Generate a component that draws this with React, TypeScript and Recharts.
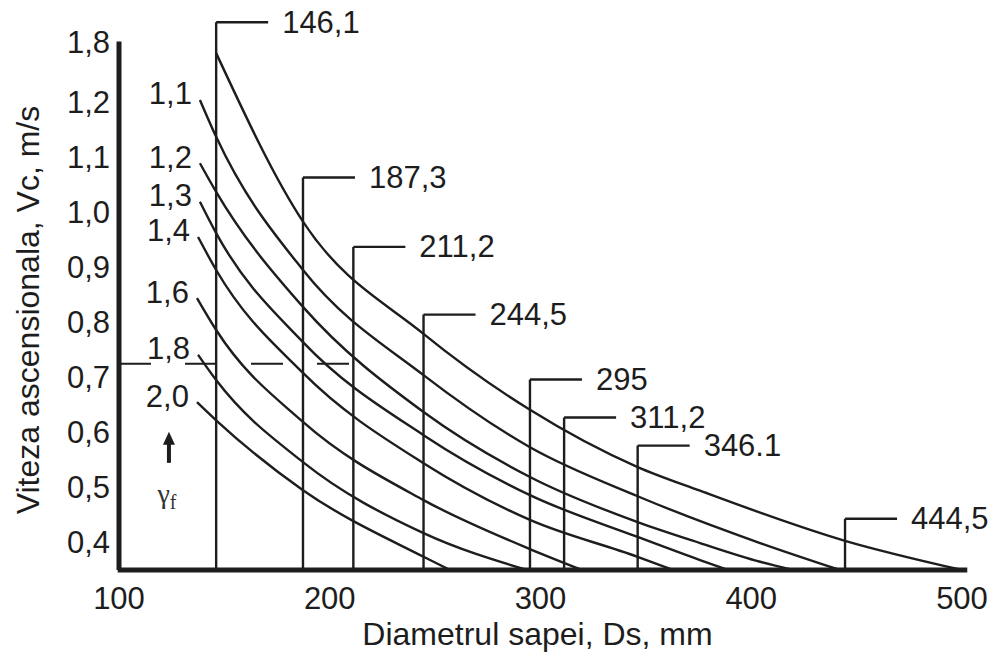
import React from "react";
import { LineChart, Line, XAxis, YAxis, ReferenceLine, ReferenceDot } from "recharts";

const INK = "#1d1d1d";
const FONT = "'Liberation Sans', Arial, Helvetica, sans-serif";

// axes
const xTicks = [100, 200, 300, 400, 500];
const yTicks = [0.4, 0.5, 0.6, 0.7, 0.8, 0.9, 1.0, 1.1, 1.2, 1.309];
const yTickLabels = ["0,4", "0,5", "0,6", "0,7", "0,8", "0,9", "1,0", "1,1", "1,2", "1,8"];
const yBottom = 0.349;
const yAxisTop = 1.309;

// bit diameters (vertical marker lines)
const diameters = [146.1, 187.3, 211.2, 244.5, 295, 311.2, 346.1, 444.5];
const diameterLabels = ["146,1", "187,3", "211,2", "244,5", "295", "311,2", "346.1", "444,5"];
const diameterTops = [1.344, 1.062, 0.936, 0.813, 0.695, 0.626, 0.575, 0.442];

// fluid density curves, [Ds, Vc]
const curveTop = [
  [146.1, 1.288], [187.3, 0.982], [244.5, 0.778], [295, 0.64], [346.1, 0.536], [375.7, 0.493],
  [444.5, 0.402], [500, 0.349],
];
const curve11 = [
  [138.4, 1.203], [146.1, 1.136], [187.3, 0.894], [244.5, 0.703], [295, 0.572], [346.1, 0.483],
  [404.2, 0.398], [442.1, 0.349],
];
const curve12 = [
  [138.4, 1.088], [146.1, 1.036], [187.3, 0.827], [244.5, 0.636], [295, 0.518], [346.1, 0.436],
  [375.7, 0.398], [404.2, 0.364], [419.8, 0.349],
];
const curve13 = [
  [138.4, 1.018], [146.1, 0.961], [187.3, 0.763], [244.5, 0.594], [295, 0.485], [346.1, 0.409],
  [375.7, 0.367], [389.0, 0.349],
];
const curve14 = [
  [137.5, 0.954], [146.1, 0.894], [187.3, 0.707], [244.5, 0.543], [295, 0.44], [346.1, 0.373],
  [362.9, 0.349],
];
const curve16 = [
  [137.0, 0.843], [146.1, 0.785], [187.3, 0.618], [244.5, 0.476], [295, 0.387], [319.7, 0.349],
];
const curve18 = [
  [137.5, 0.74], [146.1, 0.694], [187.3, 0.545], [244.5, 0.416], [293.6, 0.349],
];
const curve20 = [
  [137.0, 0.654], [146.1, 0.621], [187.3, 0.494], [244.5, 0.373], [257.1, 0.349],
];

const curveLabels = ["", "1,1", "1,2", "1,3", "1,4", "1,6", "1,8", "2,0"];
const curveSets = [curveTop, curve11, curve12, curve13, curve14, curve16, curve18, curve20];

// dashed reading line and gamma arrow
const dashedLevel = 0.7236;
const dashedEnd = 211.2;
const arrowX = 123.7;
const arrowTip = 0.6;

const toRows = (pts: number[][]) => pts.map(([x, y]) => ({ x, y }));

const textStyle = { fill: INK, fontSize: 31, fontFamily: FONT };

export default function App() {
  return (
    <div style={{ position: "absolute", left: 0, top: 0, background: "#fff" }}>
      <LineChart width={1003} height={655} margin={{ top: 19, right: 41, left: 0, bottom: 0 }}>
        <XAxis
          dataKey="x"
          type="number"
          domain={[100, 500]}
          ticks={xTicks}
          interval={0}
          axisLine={false}
          tickLine={false}
          tickSize={0}
          tickMargin={17}
          height={85}
          tick={textStyle}
          label={(props: any) => {
            const vb = props.viewBox;
            return (
              <text x={vb.x + vb.width / 2 - 3} y={vb.y + 64} textAnchor="middle" dominantBaseline="central" fill={INK} fontSize={32} fontFamily={FONT}>
                Diametrul sapei, Ds, mm
              </text>
            );
          }}
        />
        <YAxis
          type="number"
          domain={[yBottom, 1.35]}
          ticks={yTicks}
          interval={0}
          width={119}
          axisLine={false}
          tickLine={false}
          tickSize={0}
          tickMargin={9}
          tick={textStyle}
          tickFormatter={(v: number) => yTickLabels[yTicks.findIndex((t) => Math.abs(t - v) < 1e-6)] ?? ""}
          label={(props: any) => {
            const vb = props.viewBox;
            return (
              <text
                transform={`translate(${vb.x + 28}, 310) rotate(-90)`}
                textAnchor="middle"
                dominantBaseline="central"
                fill={INK}
                fontSize={32}
                fontFamily={FONT}
              >
                Viteza ascensionala, Vc, m/s
              </text>
            );
          }}
        />

        <ReferenceLine
          segment={[{ x: 100, y: dashedLevel }, { x: dashedEnd, y: dashedLevel }]}
          stroke={INK}
          strokeWidth={2}
          strokeDasharray="32 34"
        />

        {diameters.map((d, i) => (
          <Line
            key={`d-${d}`}
            data={toRows([[d, yBottom], [d, diameterTops[i]]])}
            dataKey="y"
            type="linear"
            stroke={INK}
            strokeWidth={2.4}
            isAnimationActive={false}
            activeDot={false}
            dot={(p: any) =>
              p.index === 1 ? (
                <g key={`f-${d}`}>
                  <line x1={p.cx} y1={p.cy} x2={p.cx + 52} y2={p.cy} stroke={INK} strokeWidth={2.4} />
                  <text x={p.cx + 66} y={p.cy} dominantBaseline="central" fill={INK} fontSize={31} fontFamily={FONT}>
                    {diameterLabels[i]}
                  </text>
                </g>
              ) : (
                <g key={`f0-${d}`} />
              )
            }
          />
        ))}

        {curveSets.map((pts, i) => (
          <Line
            key={`c-${i}`}
            data={toRows(pts)}
            dataKey="y"
            type="monotone"
            stroke={INK}
            strokeWidth={2.4}
            isAnimationActive={false}
            activeDot={false}
            dot={(p: any) =>
              p.index === 0 && curveLabels[i] ? (
                <text key={`l-${i}`} x={p.cx - 8} y={p.cy - 6} textAnchor="end" dominantBaseline="central" fill={INK} fontSize={31} fontFamily={FONT}>
                  {curveLabels[i]}
                </text>
              ) : (
                <g key={`l-${i}-${p.index}`} />
              )
            }
          />
        ))}

        <ReferenceLine segment={[{ x: 100, y: yBottom }, { x: 100, y: yAxisTop }]} stroke={INK} strokeWidth={5} ifOverflow="visible" />
        <ReferenceLine segment={[{ x: 99.4, y: yBottom }, { x: 502.5, y: yBottom }]} stroke={INK} strokeWidth={5} ifOverflow="visible" />

        <ReferenceDot
          x={arrowX}
          y={arrowTip}
          ifOverflow="visible"
          shape={(p: any) => (
            <g>
              <polygon points={`${p.cx - 6},${p.cy + 13} ${p.cx + 6},${p.cy + 13} ${p.cx},${p.cy}`} fill={INK} />
              <line x1={p.cx} y1={p.cy + 10} x2={p.cx} y2={p.cy + 31} stroke={INK} strokeWidth={4} />
              <text x={p.cx - 2} y={p.cy + 62} textAnchor="middle" dominantBaseline="central" fill="#333" fontSize={28} fontFamily="'Liberation Serif', 'Times New Roman', serif">
                γ<tspan dy={8} fontSize={20}>f</tspan>
              </text>
            </g>
          )}
        />
      </LineChart>
    </div>
  );
}
